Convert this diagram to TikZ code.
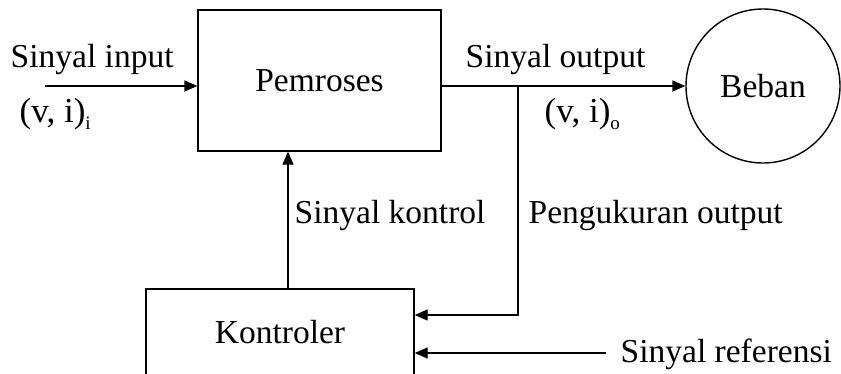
\documentclass[tikz,border=0pt]{standalone}
\usepackage{fontspec}
\setmainfont{Liberation Serif}
\usetikzlibrary{arrows.meta}
\begin{document}
\begin{tikzpicture}[x=1pt,y=-1pt,
  line width=1.4pt,
  arr/.style={-{Triangle[length=13pt,width=11pt]}},
  txt/.style={inner sep=0pt,anchor=base west,font=\fontsize{33.5}{36}\selectfont},
  blk/.style={draw,rectangle,inner sep=0pt,font=\fontsize{33.5}{36}\selectfont},
  vi/.style={inner sep=0pt,anchor=base west,font=\fontsize{35}{38}\selectfont}]
\useasboundingbox (0,0) rectangle (841,373);
\node[blk,minimum width=243pt,minimum height=141pt] (pem) at (319.5,80.5) {Pemroses};
\node[blk,circle,minimum size=154pt] (beban) at (763,86) {Beban};
\node[blk,minimum width=268pt,minimum height=86pt] (kon) at (280,332) {Kontroler};
\coordinate (in) at (45,86);
\coordinate (br) at (518,86);
\coordinate (meas) at (518,315);
\coordinate (ref) at (606,353);
\coordinate (ctl) at (288,289);
\draw[arr] (in) -- (pem.west |- in);
\draw[arr] (pem.east |- br) -- (beban.west);
\draw[arr] (br) -- (meas) -- (kon.east |- meas);
\draw[arr] (ref) -- (kon.east |- ref);
\draw[arr] (kon.north -| ctl) -- (pem.south -| ctl);
\node[txt] (lin) at (10,67) {Sinyal input};
\node[vi] (vii) at (19,122) {(v, i)\raisebox{-7pt}{\fontsize{19}{20}\selectfont i}};
\node[txt] (lout) at (465,67) {Sinyal output};
\node[vi] (vio) at (544,122) {(v, i)\raisebox{-7pt}{\fontsize{19}{20}\selectfont o}};
\node[txt] (lkon) at (294,223) {Sinyal kontrol};
\node[txt] (lmeas) at (528,223) {Pengukuran output};
\node[txt] (lref) at (620,362) {Sinyal referensi};
\end{tikzpicture}
\end{document}
